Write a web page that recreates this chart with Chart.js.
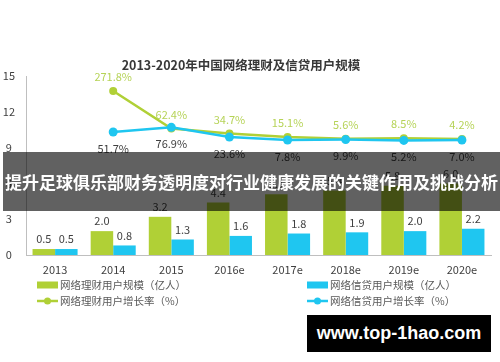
<!DOCTYPE html>
<html><head><meta charset="utf-8">
<script src="https://cdn.jsdelivr.net/npm/chart.js@4/dist/chart.umd.min.js"></script>
<style>
html,body{margin:0;padding:0;background:#fff;}
#wrap{position:relative;width:500px;height:362px;overflow:hidden;background:#fff;}
#banner{position:absolute;left:3px;top:152px;width:497px;height:59px;background:rgba(0,0,0,0.62);color:#fff;font-family:'Noto Sans CJK SC',sans-serif;font-weight:bold;font-size:17px;line-height:59px;text-align:center;white-space:nowrap;}
#wm{position:absolute;left:307px;top:315px;width:184px;height:37px;background:#000;color:#fff;font-family:'Liberation Sans',Arial,sans-serif;font-weight:bold;font-size:18px;line-height:37px;text-align:center;white-space:nowrap;}
</style></head>
<body><div id="wrap"><canvas id="c" width="500" height="362"></canvas>
<div id="banner">提升足球俱乐部财务透明度对行业健康发展的关键作用及挑战分析</div>
<div id="wm">www.top-1hao.com</div></div>
<script>
const categories = ['2013','2014','2015','2016e','2017e','2018e','2019e','2020e'];
const wealthUsers = [0.5,2.0,3.2,4.4,5.1,5.4,5.8,6.0];
const creditUsers = [0.5,0.8,1.3,1.6,1.8,1.9,2.0,2.2];
const wealthGrowth = [null,271.8,62.4,34.7,15.1,5.6,8.5,4.2];
const creditGrowth = [null,51.7,76.9,23.6,7.8,9.9,5.2,7.0];
const titleText = '2013-2020年中国网络理财及信贷用户规模';
const legendLabels = ['网络理财用户规模（亿人）','网络信贷用户规模（亿人）','网络理财用户增长率（%）','网络信贷用户增长率（%）'];

const GREEN = '#b0d036';
const BLUE = '#1fc6f0';
const FONT = "'Noto Sans CJK SC', sans-serif";
Chart.defaults.font.family = FONT;

const labelPlugin = {
  id: 'customLabels',
  afterDatasetsDraw(chart) {
    const ctx = chart.ctx;
    ctx.save();
    ctx.textAlign = 'center';
    ctx.textBaseline = 'middle';
    chart.data.datasets.forEach((ds, i) => {
      const meta = chart.getDatasetMeta(i);
      meta.data.forEach((el, j) => {
        const v = ds.data[j];
        if (v === null || v === undefined) return;
        if (ds.type === 'bar') {
          ctx.fillStyle = '#404040';
          ctx.font = '11px ' + FONT;
          ctx.fillText(v.toFixed(1), el.x, el.y - 10);
        } else if (ds.labelPos === 'above') {
          ctx.fillStyle = '#b6d357';
          ctx.font = '11px ' + FONT;
          ctx.fillText(v.toFixed(1) + '%', el.x, el.y - 14);
        } else {
          ctx.fillStyle = '#404040';
          ctx.font = '11px ' + FONT;
          ctx.fillText(v.toFixed(1) + '%', el.x, el.y + 16.5);
        }
      });
    });
    ctx.restore();
  },
  afterDraw(chart) {
    const ctx = chart.ctx;
    ctx.save();
    ctx.fillStyle = '#383838';
    ctx.font = 'bold 12.5px ' + FONT;
    ctx.textAlign = 'center';
    ctx.textBaseline = 'middle';
    ctx.fillText(titleText, 241, 65);
    ctx.textAlign = 'left';
    ctx.font = '10.5px ' + FONT;
    const cols = [37, 307];
    const rows = [285, 301];
    const colors = [GREEN, BLUE];
    for (let c = 0; c < 2; c++) {
      const x = cols[c];
      ctx.fillStyle = colors[c];
      ctx.fillRect(x, rows[0] - 3.5, 21, 7);
      ctx.strokeStyle = colors[c];
      ctx.lineWidth = 2.5;
      ctx.beginPath();
      ctx.moveTo(x, rows[1]);
      ctx.lineTo(x + 21, rows[1]);
      ctx.stroke();
      ctx.beginPath();
      ctx.arc(x + 10.5, rows[1], 3.5, 0, Math.PI * 2);
      ctx.fill();
      ctx.fillStyle = '#595959';
      ctx.fillText(legendLabels[c], x + 23, rows[0]);
      ctx.fillText(legendLabels[c + 2], x + 23, rows[1]);
    }
    ctx.restore();
  }
};

new Chart(document.getElementById('c'), {
  data: {
    labels: categories,
    datasets: [
      { type: 'line', data: creditGrowth, yAxisID: 'yB', borderColor: BLUE, backgroundColor: BLUE,
        borderWidth: 2.5, pointRadius: 4.5, pointHoverRadius: 4.5, pointBorderWidth: 0, tension: 0, order: 0, labelPos: 'below' },
      { type: 'line', data: wealthGrowth, yAxisID: 'yG', borderColor: GREEN, backgroundColor: GREEN,
        borderWidth: 2.5, pointRadius: 4, pointHoverRadius: 4, pointBorderWidth: 0, tension: 0, order: 1, labelPos: 'above' },
      { type: 'bar', data: wealthUsers, yAxisID: 'y', backgroundColor: GREEN, order: 2,
        categoryPercentage: 0.775, barPercentage: 1.0 },
      { type: 'bar', data: creditUsers, yAxisID: 'y', backgroundColor: BLUE, order: 3,
        categoryPercentage: 0.775, barPercentage: 1.0 }
    ]
  },
  options: {
    responsive: false,
    animation: false,
    layout: { padding: { top: 76, right: 9, bottom: 87, left: 0 } },
    plugins: { legend: { display: false }, tooltip: { enabled: false }, title: { display: false } },
    scales: {
      x: {
        grid: { display: false, drawTicks: false },
        border: { color: '#bfbfbf', width: 1 },
        ticks: { color: '#404040', font: { size: 11 }, padding: 8, maxRotation: 0 },
        afterFit(s) { s.height = 20; }
      },
      y: {
        min: 0, max: 15,
        grid: { display: false, drawTicks: false },
        border: { color: '#bfbfbf', width: 1 },
        ticks: { stepSize: 3, color: '#404040', font: { size: 11 }, padding: 11, crossAlign: 'center' },
        afterFit(s) { s.width = 26; }
      },
      yG: { display: false, position: 'right', min: -644, max: 356 },
      yB: { display: false, position: 'right', min: -624, max: 359 }
    }
  },
  plugins: [labelPlugin]
});
</script>
</body></html>
